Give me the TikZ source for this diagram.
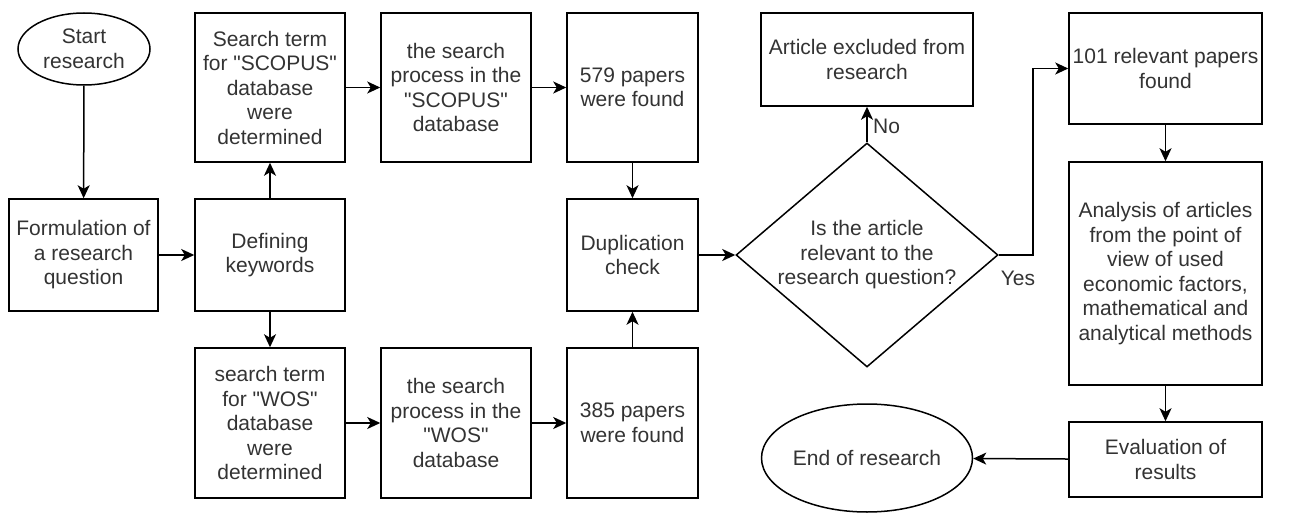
\documentclass[tikz,border=0pt]{standalone}
\usepackage{fontspec}
\setmainfont{Liberation Sans}[Ligatures=TeXOff]
\usetikzlibrary{shapes.geometric,arrows.meta,positioning}
\begin{document}
\begin{tikzpicture}[x=1pt,y=-1pt,
  every node/.style={font=\fontsize{21}{24.5}\selectfont, text=black!80, align=center},
  box/.style={draw=black, line width=1.5pt, rectangle, inner sep=0pt},
  oval/.style={draw=black, line width=1.5pt, ellipse, inner sep=0pt},
  decide/.style={draw=black, line width=1.5pt, diamond, inner sep=0pt},
  conn/.style={draw=black, line width=1.5pt, -{Stealth[length=13pt,width=12pt,inset=3.5pt]}},
  lbl/.style={font=\fontsize{21}{24.5}\selectfont, text=black!80}
]
\useasboundingbox (0,0) rectangle (1293,513);
\fill[white] (0,0) rectangle (1293,513);

\node[oval, minimum width=132pt, minimum height=72pt] (start) at (84,49) {Start\\research};
\node[box, minimum width=149pt, minimum height=112pt] (form) at (83.5,255) {Formulation of\\a research\\question};
\node[box, minimum width=150pt, minimum height=112pt] (def) at (270,255) {Defining\\keywords};
\node[box, minimum width=150pt, minimum height=149pt] (sterm) at (270,87.5) {Search term\\for "SCOPUS"\\database\\were\\determined};
\node[box, minimum width=150pt, minimum height=150pt] (wterm) at (270,423) {search term\\for "WOS"\\database\\were\\determined};
\node[box, minimum width=150pt, minimum height=149pt] (sproc) at (456,87.5) {the search\\process in the\\"SCOPUS"\\database};
\node[box, minimum width=150pt, minimum height=150pt] (wproc) at (456,423) {the search\\process in the\\"WOS"\\database};
\node[box, minimum width=131pt, minimum height=149pt] (s579) at (632.5,87.5) {579 papers\\were found};
\node[box, minimum width=131pt, minimum height=112pt] (dup) at (632.5,255) {Duplication\\check};
\node[box, minimum width=131pt, minimum height=150pt] (w385) at (632.5,423) {385 papers\\were found};
\node[decide, minimum width=262pt, minimum height=224pt,
  label={[align=center]center:Is the article\\relevant to the\\research question?}] (dia) at (867,255) {};
\node[box, minimum width=212pt, minimum height=93pt] (excl) at (867,59.5) {Article excluded from\\research};
\node[box, minimum width=193pt, minimum height=111pt] (rel) at (1165.5,68.5) {101 relevant papers\\found};
\node[box, minimum width=193pt, minimum height=223pt] (ana) at (1165.5,273.5) {Analysis of articles\\from the point of\\view of used\\economic factors,\\mathematical and\\analytical methods};
\node[box, minimum width=193pt, minimum height=75pt] (eval) at (1165.5,459.5) {Evaluation of\\results};
\node[oval, minimum width=211pt, minimum height=108pt] (end) at (867,458) {End of research};

\coordinate (yesbend) at (1033,255);

\draw[conn] (start) -- (form);
\draw[conn] (form) -- (def);
\draw[conn] (def) -- (sterm);
\draw[conn] (def) -- (wterm);
\draw[conn] (sterm) -- (sproc);
\draw[conn] (sproc) -- (s579);
\draw[conn] (s579) -- (dup);
\draw[conn] (wterm) -- (wproc);
\draw[conn] (wproc) -- (w385);
\draw[conn] (w385) -- (dup);
\draw[conn] (dup) -- (dia.west);
\draw[conn] (dia.north) -- node[lbl, right, pos=0.45, xshift=2pt] (nolbl) {No} (excl);
\draw[conn] (dia.east) -- (yesbend) |- (rel.west);
\node[lbl] (yeslbl) at (1018,278) {Yes};
\draw[conn] (rel) -- (ana);
\draw[conn] (ana) -- (eval);
\draw[conn] (eval) -- (end);
\end{tikzpicture}
\end{document}
